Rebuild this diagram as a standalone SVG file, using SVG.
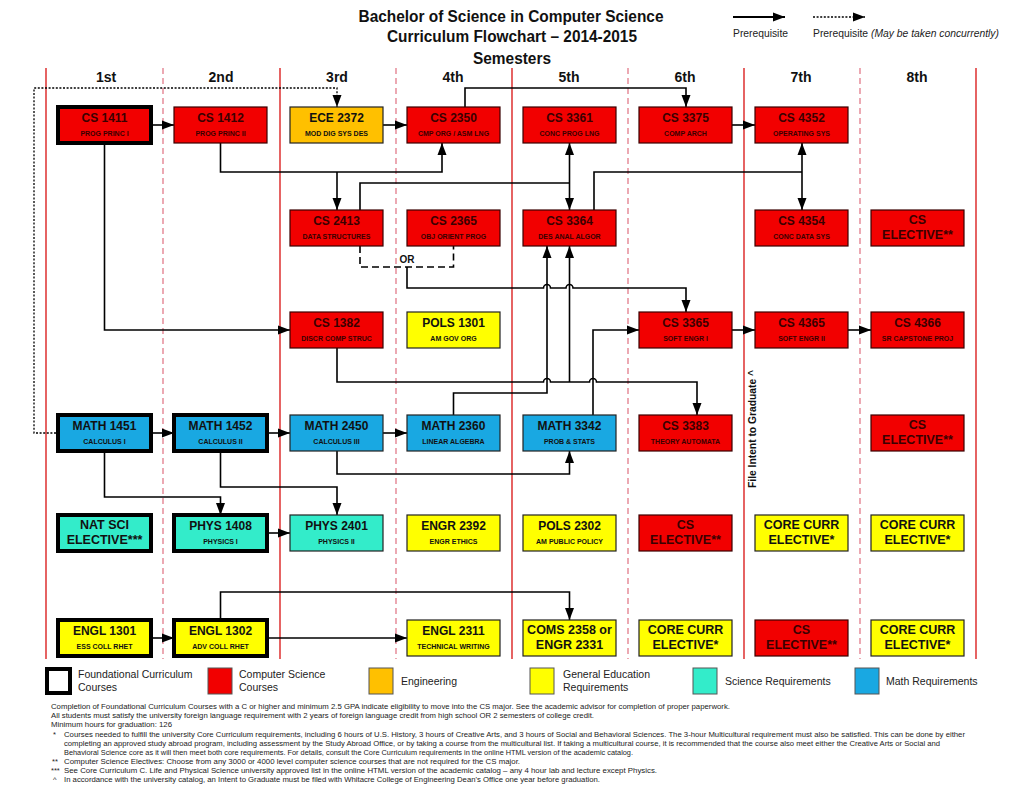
<svg xmlns="http://www.w3.org/2000/svg" width="1024" height="792" viewBox="0 0 1024 792">
<style>
text{font-family:"Liberation Sans",Arial,sans-serif}
.ttl{font-size:16px;font-weight:bold;text-anchor:middle;fill:#111}
.sem{font-size:14px;font-weight:bold;text-anchor:middle;fill:#111}
.code{font-size:12px;font-weight:bold;text-anchor:middle;fill:#111}
.sub{font-size:7px;font-weight:bold;text-anchor:middle;fill:#111}
.el{font-size:12.5px;font-weight:bold;text-anchor:middle;fill:#111}
.n rect{stroke:#222;stroke-width:1.2}
.red rect{fill:#f20000;stroke:#3a0000}
.red text{fill:#3a0000}
.ora rect{fill:#ffc000}
.yel rect{fill:#ffff00}
.sci rect{fill:#33ecca}
.mat rect{fill:#19a8e2}
.f rect{stroke:#000;stroke-width:4}
.cl{stroke:#d81010;stroke-width:1.3}
.cd{stroke:#e07080;stroke-width:1.2;stroke-dasharray:6 4}
.c path{fill:none;stroke:#000;stroke-width:1.6}
.c .dot{stroke-width:1.3;stroke-dasharray:2 1.6}
.c .or{stroke-dasharray:7 4}
.foot{font-size:7.5px;fill:#222}
.lg{font-size:10.5px;fill:#222}
.lgb{stroke:#555;stroke-width:1}
</style>
<defs>
<marker id="a" viewBox="0 0 12 10" refX="12" refY="5" markerWidth="12" markerHeight="10" markerUnits="userSpaceOnUse" orient="auto-start-reverse"><path d="M0,0.5 L12,5 L0,9.5z" fill="#000"/></marker>
</defs>
<rect width="1024" height="792" fill="#fff"/>

<g id="header">
<text class="ttl" x="511" y="22" textLength="305" lengthAdjust="spacingAndGlyphs">Bachelor of Science in Computer Science</text>
<text class="ttl" x="512" y="42" textLength="250" lengthAdjust="spacingAndGlyphs">Curriculum Flowchart – 2014-2015</text>
<text class="ttl" x="512" y="64" textLength="78" lengthAdjust="spacingAndGlyphs">Semesters</text>
<text class="sem" x="106" y="82">1st</text>
<text class="sem" x="221" y="82">2nd</text>
<text class="sem" x="337" y="82">3rd</text>
<text class="sem" x="453" y="82">4th</text>
<text class="sem" x="569" y="82">5th</text>
<text class="sem" x="685" y="82">6th</text>
<text class="sem" x="801" y="82">7th</text>
<text class="sem" x="917" y="82">8th</text>
</g>

<g id="key-top">
<path d="M733,17 H785" stroke="#000" stroke-width="2" marker-end="url(#a)"/>
<path d="M813,17 H865" stroke="#000" stroke-width="1.5" stroke-dasharray="2 1.6" marker-end="url(#a)"/>
<text x="733" y="37" font-size="10" fill="#222" textLength="55" lengthAdjust="spacingAndGlyphs">Prerequisite</text>
<text x="813" y="37" font-size="10" fill="#222" textLength="186" lengthAdjust="spacingAndGlyphs">Prerequisite <tspan font-style="italic">(May be taken concurrently)</tspan></text>
</g>

<g id="columns">
<line class="cl" x1="46" y1="68" x2="46" y2="659"/>
<line class="cl" x1="280" y1="68" x2="280" y2="659"/>
<line class="cl" x1="512" y1="68" x2="512" y2="659"/>
<line class="cl" x1="744" y1="68" x2="744" y2="659"/>
<line class="cl" x1="976" y1="68" x2="976" y2="659"/>
<line class="cd" x1="163" y1="68" x2="163" y2="659"/>
<line class="cd" x1="396" y1="68" x2="396" y2="659"/>
<line class="cd" x1="628" y1="68" x2="628" y2="659"/>
<line class="cd" x1="860" y1="68" x2="860" y2="659"/>
</g>

<g id="connectors" class="c">
<path d="M152,125 H174" marker-end="url(#a)"/>
<path d="M383,125 H407" marker-end="url(#a)"/>
<path d="M732,125 H755" marker-end="url(#a)"/>
<path class="dot" d="M56,433 H34 V88 H337 V107" marker-end="url(#a)"/>
<path d="M465,107 V88 H686 V107" marker-end="url(#a)"/>
<path d="M220.5,143 V172 H442 V143" marker-end="url(#a)"/>
<path d="M337,172 V210" marker-end="url(#a)"/>
<path d="M360,210 V183 H569.5"/>
<path d="M569.5,143 V210" marker-start="url(#a)" marker-end="url(#a)"/>
<path d="M594,210 V172 H802"/>
<path d="M802,143 V210" marker-start="url(#a)" marker-end="url(#a)"/>
<path class="or" d="M360,246 V267 H453.5 V246"/>
<path d="M407,267 V288 H543.5 a3.5,3.5 0 0 1 7,0 H566 a3.5,3.5 0 0 1 7,0 H686 V312" marker-end="url(#a)"/>
<path d="M104.5,145 V330 H290" marker-end="url(#a)"/>
<path d="M337,348 V382 H543.5 a3.5,3.5 0 0 1 7,0 H589.5 a3.5,3.5 0 0 1 7,0 H697 V415" marker-end="url(#a)"/>
<path d="M569.5,382 V246" marker-end="url(#a)"/>
<path d="M453.5,415 V393 H547 V246" marker-end="url(#a)"/>
<path d="M593,415 V330 H639" marker-end="url(#a)"/>
<path d="M337,451 V474 H569.5 V451" marker-end="url(#a)"/>
<path d="M152,433 H174" marker-end="url(#a)"/>
<path d="M267,433 H290" marker-end="url(#a)"/>
<path d="M383,433 H407" marker-end="url(#a)"/>
<path d="M104.5,453 V497 H220.5 V515" marker-end="url(#a)"/>
<path d="M220.5,453 V487 H337 V515" marker-end="url(#a)"/>
<path d="M267,533 H290" marker-end="url(#a)"/>
<path d="M152,638 H174" marker-end="url(#a)"/>
<path d="M267,638 H407" marker-end="url(#a)"/>
<path d="M220.5,618 V592 H569.5 V620" marker-end="url(#a)"/>
<path d="M732,330 H755" marker-end="url(#a)"/>
<path d="M848,330 H871" marker-end="url(#a)"/>
<text x="407" y="263" font-size="10" font-weight="bold" text-anchor="middle" fill="#111">OR</text>
</g>

<!-- Row 1 -->
<g id="cs1411" class="n red f"><rect x="58" y="107" width="93" height="36"/><text class="code" x="104.5" y="121.5">CS 1411</text><text class="sub" x="104.5" y="135.5">PROG PRINC I</text></g>
<g id="cs1412" class="n red"><rect x="174" y="107" width="93" height="36"/><text class="code" x="220.5" y="121.5">CS 1412</text><text class="sub" x="220.5" y="135.5">PROG PRINC II</text></g>
<g id="ece2372" class="n ora"><rect x="290" y="107" width="93" height="36"/><text class="code" x="336.5" y="121.5">ECE 2372</text><text class="sub" x="336.5" y="135.5">MOD DIG SYS DES</text></g>
<g id="cs2350" class="n red"><rect x="407" y="107" width="93" height="36"/><text class="code" x="453.5" y="121.5">CS 2350</text><text class="sub" x="453.5" y="135.5">CMP ORG / ASM LNG</text></g>
<g id="cs3361" class="n red"><rect x="523" y="107" width="93" height="36"/><text class="code" x="569.5" y="121.5">CS 3361</text><text class="sub" x="569.5" y="135.5">CONC PROG LNG</text></g>
<g id="cs3375" class="n red"><rect x="639" y="107" width="93" height="36"/><text class="code" x="685.5" y="121.5">CS 3375</text><text class="sub" x="685.5" y="135.5">COMP ARCH</text></g>
<g id="cs4352" class="n red"><rect x="755" y="107" width="93" height="36"/><text class="code" x="801.5" y="121.5">CS 4352</text><text class="sub" x="801.5" y="135.5">OPERATING SYS</text></g>

<!-- Row 2 -->
<g id="cs2413" class="n red"><rect x="290" y="210" width="93" height="36"/><text class="code" x="336.5" y="224.5">CS 2413</text><text class="sub" x="336.5" y="238.5">DATA STRUCTURES</text></g>
<g id="cs2365" class="n red"><rect x="407" y="210" width="93" height="36"/><text class="code" x="453.5" y="224.5">CS 2365</text><text class="sub" x="453.5" y="238.5">OBJ ORIENT PROG</text></g>
<g id="cs3364" class="n red"><rect x="523" y="210" width="93" height="36"/><text class="code" x="569.5" y="224.5">CS 3364</text><text class="sub" x="569.5" y="238.5">DES ANAL ALGOR</text></g>
<g id="cs4354" class="n red"><rect x="755" y="210" width="93" height="36"/><text class="code" x="801.5" y="224.5">CS 4354</text><text class="sub" x="801.5" y="238.5">CONC DATA SYS</text></g>
<g id="cselec8a" class="n red"><rect x="871" y="210" width="93" height="36"/><text class="el" x="917.5" y="223.5">CS</text><text class="el" x="917.5" y="238.5">ELECTIVE**</text></g>

<!-- Row 3 -->
<g id="cs1382" class="n red"><rect x="290" y="312" width="93" height="36"/><text class="code" x="336.5" y="326.5">CS 1382</text><text class="sub" x="336.5" y="340.5">DISCR COMP STRUC</text></g>
<g id="pols1301" class="n yel"><rect x="407" y="312" width="93" height="36"/><text class="code" x="453.5" y="326.5">POLS 1301</text><text class="sub" x="453.5" y="340.5">AM GOV ORG</text></g>
<g id="cs3365" class="n red"><rect x="639" y="312" width="93" height="36"/><text class="code" x="685.5" y="326.5">CS 3365</text><text class="sub" x="685.5" y="340.5">SOFT ENGR I</text></g>
<g id="cs4365" class="n red"><rect x="755" y="312" width="93" height="36"/><text class="code" x="801.5" y="326.5">CS 4365</text><text class="sub" x="801.5" y="340.5">SOFT ENGR II</text></g>
<g id="cs4366" class="n red"><rect x="871" y="312" width="93" height="36"/><text class="code" x="917.5" y="326.5">CS 4366</text><text class="sub" x="917.5" y="340.5">SR CAPSTONE PROJ</text></g>

<!-- Row 4 -->
<g id="math1451" class="n mat f"><rect x="58" y="415" width="93" height="36"/><text class="code" x="104.5" y="429.5">MATH 1451</text><text class="sub" x="104.5" y="443.5">CALCULUS I</text></g>
<g id="math1452" class="n mat f"><rect x="174" y="415" width="93" height="36"/><text class="code" x="220.5" y="429.5">MATH 1452</text><text class="sub" x="220.5" y="443.5">CALCULUS II</text></g>
<g id="math2450" class="n mat"><rect x="290" y="415" width="93" height="36"/><text class="code" x="336.5" y="429.5">MATH 2450</text><text class="sub" x="336.5" y="443.5">CALCULUS III</text></g>
<g id="math2360" class="n mat"><rect x="407" y="415" width="93" height="36"/><text class="code" x="453.5" y="429.5">MATH 2360</text><text class="sub" x="453.5" y="443.5">LINEAR ALGEBRA</text></g>
<g id="math3342" class="n mat"><rect x="523" y="415" width="93" height="36"/><text class="code" x="569.5" y="429.5">MATH 3342</text><text class="sub" x="569.5" y="443.5">PROB &amp; STATS</text></g>
<g id="cs3383" class="n red"><rect x="639" y="415" width="93" height="36"/><text class="code" x="685.5" y="429.5">CS 3383</text><text class="sub" x="685.5" y="443.5">THEORY AUTOMATA</text></g>
<g id="cselec8b" class="n red"><rect x="871" y="415" width="93" height="36"/><text class="el" x="917.5" y="428.5">CS</text><text class="el" x="917.5" y="443.5">ELECTIVE**</text></g>

<!-- Row 5 -->
<g id="natsci" class="n sci f"><rect x="58" y="515" width="93" height="36"/><text class="el" x="104.5" y="528.5">NAT SCI</text><text class="el" x="104.5" y="543.5">ELECTIVE***</text></g>
<g id="phys1408" class="n sci f"><rect x="174" y="515" width="93" height="36"/><text class="code" x="220.5" y="529.5">PHYS 1408</text><text class="sub" x="220.5" y="543.5">PHYSICS I</text></g>
<g id="phys2401" class="n sci"><rect x="290" y="515" width="93" height="36"/><text class="code" x="336.5" y="529.5">PHYS 2401</text><text class="sub" x="336.5" y="543.5">PHYSICS II</text></g>
<g id="engr2392" class="n yel"><rect x="407" y="515" width="93" height="36"/><text class="code" x="453.5" y="529.5">ENGR 2392</text><text class="sub" x="453.5" y="543.5">ENGR ETHICS</text></g>
<g id="pols2302" class="n yel"><rect x="523" y="515" width="93" height="36"/><text class="code" x="569.5" y="529.5">POLS 2302</text><text class="sub" x="569.5" y="543.5">AM PUBLIC POLICY</text></g>
<g id="cselec6" class="n red"><rect x="639" y="515" width="93" height="36"/><text class="el" x="685.5" y="528.5">CS</text><text class="el" x="685.5" y="543.5">ELECTIVE**</text></g>
<g id="core7a" class="n yel"><rect x="755" y="515" width="93" height="36"/><text class="el" x="801.5" y="528.5">CORE CURR</text><text class="el" x="801.5" y="543.5">ELECTIVE*</text></g>
<g id="core8a" class="n yel"><rect x="871" y="515" width="93" height="36"/><text class="el" x="917.5" y="528.5">CORE CURR</text><text class="el" x="917.5" y="543.5">ELECTIVE*</text></g>

<!-- Row 6 -->
<g id="engl1301" class="n yel f"><rect x="58" y="620" width="93" height="36"/><text class="code" x="104.5" y="634.5">ENGL 1301</text><text class="sub" x="104.5" y="648.5">ESS COLL RHET</text></g>
<g id="engl1302" class="n yel f"><rect x="174" y="620" width="93" height="36"/><text class="code" x="220.5" y="634.5">ENGL 1302</text><text class="sub" x="220.5" y="648.5">ADV COLL RHET</text></g>
<g id="engl2311" class="n yel"><rect x="407" y="620" width="93" height="36"/><text class="code" x="453.5" y="634.5">ENGL 2311</text><text class="sub" x="453.5" y="648.5">TECHNICAL WRITING</text></g>
<g id="coms2358" class="n yel"><rect x="523" y="620" width="93" height="36"/><text class="el" x="569.5" y="633.5">COMS 2358 or</text><text class="el" x="569.5" y="648.5">ENGR 2331</text></g>
<g id="core6" class="n yel"><rect x="639" y="620" width="93" height="36"/><text class="el" x="685.5" y="633.5">CORE CURR</text><text class="el" x="685.5" y="648.5">ELECTIVE*</text></g>
<g id="cselec7" class="n red"><rect x="755" y="620" width="93" height="36"/><text class="el" x="801.5" y="633.5">CS</text><text class="el" x="801.5" y="648.5">ELECTIVE**</text></g>
<g id="core8b" class="n yel"><rect x="871" y="620" width="93" height="36"/><text class="el" x="917.5" y="633.5">CORE CURR</text><text class="el" x="917.5" y="648.5">ELECTIVE*</text></g>

<text transform="translate(756,429) rotate(-90)" text-anchor="middle" font-size="10" font-weight="bold" fill="#111" textLength="118" lengthAdjust="spacingAndGlyphs">File Intent to Graduate ^</text>

<g id="legend">
<rect x="47" y="669" width="23" height="24" fill="#fff" stroke="#000" stroke-width="4"/>
<text class="lg" x="78" y="678">Foundational Curriculum</text>
<text class="lg" x="78" y="691">Courses</text>
<rect class="lgb" x="208" y="668" width="24" height="26" fill="#f20000"/>
<text class="lg" x="239" y="678">Computer Science</text>
<text class="lg" x="239" y="691">Courses</text>
<rect class="lgb" x="369" y="668" width="24" height="26" fill="#ffc000"/>
<text class="lg" x="401" y="685">Engineering</text>
<rect class="lgb" x="530" y="668" width="24" height="26" fill="#ffff00"/>
<text class="lg" x="563" y="678">General Education</text>
<text class="lg" x="563" y="691">Requirements</text>
<rect class="lgb" x="693" y="668" width="24" height="26" fill="#33ecca"/>
<text class="lg" x="725" y="685">Science Requirements</text>
<rect class="lgb" x="855" y="668" width="24" height="26" fill="#19a8e2"/>
<text class="lg" x="886" y="685">Math Requirements</text>
</g>

<g id="footnotes" class="foot">
<text class="foot" x="51" y="709" textLength="679" lengthAdjust="spacingAndGlyphs">Completion of Foundational Curriculum Courses with a C or higher and minimum 2.5 GPA indicate eligibility to move into the CS major. See the academic advisor for completion of proper paperwork.</text>
<text class="foot" x="51" y="718" textLength="543" lengthAdjust="spacingAndGlyphs">All students must satisfy the university foreign language requirement with 2 years of foreign language credit from high school OR 2 semesters of college credit.</text>
<text class="foot" x="51" y="727" textLength="121" lengthAdjust="spacingAndGlyphs">Minimum hours for graduation: 126</text>
<text class="foot" x="53" y="737">*</text>
<text class="foot" x="64" y="737" textLength="901" lengthAdjust="spacingAndGlyphs">Courses needed to fulfill the university Core Curriculum requirements, including 6 hours of U.S. History, 3 hours of Creative Arts, and 3 hours of Social and Behavioral Sciences. The 3-hour Multicultural requirement must also be satisfied. This can be done by either</text>
<text class="foot" x="64" y="746" textLength="876" lengthAdjust="spacingAndGlyphs">completing an approved study abroad program, including assessment by the Study Abroad Office, or by taking a course from the multicultural list. If taking a multicultural course, it is recommended that the course also meet either the Creative Arts or Social and</text>
<text class="foot" x="64" y="755" textLength="569" lengthAdjust="spacingAndGlyphs">Behavioral Science core as it will then meet both core requirements. For details, consult the Core Curriculum requirements in the online HTML version of the academic catalog.</text>
<text class="foot" x="52" y="764">**</text>
<text class="foot" x="64" y="764" textLength="456" lengthAdjust="spacingAndGlyphs">Computer Science Electives: Choose from any 3000 or 4000 level computer science courses that are not required for the CS major.</text>
<text class="foot" x="51" y="773">***</text>
<text class="foot" x="64" y="773" textLength="593" lengthAdjust="spacingAndGlyphs">See Core Curriculum C. Life and Physical Science university approved list in the online HTML version of the academic catalog – any 4 hour lab and lecture except Physics.</text>
<text class="foot" x="53" y="782">^</text>
<text class="foot" x="64" y="782" textLength="536" lengthAdjust="spacingAndGlyphs">In accordance with the university catalog, an Intent to Graduate must be filed with Whitacre College of Engineering Dean's Office one year before graduation.</text>
</g>
</svg>
